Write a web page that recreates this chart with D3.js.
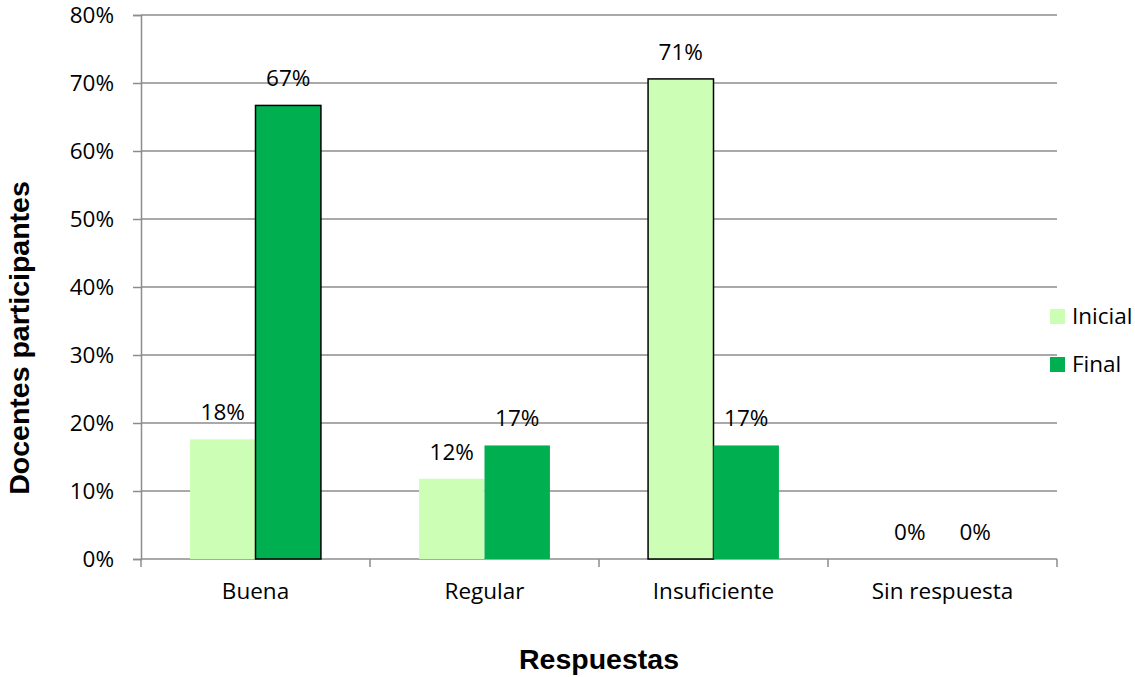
<!DOCTYPE html>
<html>
<head>
<meta charset="utf-8">
<script src="https://cdn.jsdelivr.net/npm/d3@7"></script>
<style>
  html, body { margin: 0; padding: 0; background: #ffffff; }
  svg { display: block; }
</style>
</head>
<body>
<svg id="chart" width="1135" height="677"></svg>
<script>
// Categories and series values (fractions of participating teachers)
const categories = ["Buena", "Regular", "Insuficiente", "Sin respuesta"];
const seriesNames = ["Inicial", "Final"];
const inicial = [0.176, 0.118, 0.706, 0];
const final = [0.667, 0.167, 0.167, 0];
const yTicks = [0, 0.1, 0.2, 0.3, 0.4, 0.5, 0.6, 0.7, 0.8];
// Bars drawn with a dark outline
const outlined = [["Buena", "Final"], ["Insuficiente", "Inicial"]];

const colors = { Inicial: "#ccffb5", Final: "#00b050" };
const labelFont = "'Open Sans', 'Noto Sans', sans-serif";
const labelSize = 22.5;
const titleFont = "'Liberation Sans', Arial, sans-serif";
const titleSize = 28.5;

const svg = d3.select("#chart");
const plot = { left: 141, right: 1057, top: 15, bottom: 559 };

const x0 = d3.scaleBand().domain(categories)
  .range([plot.left, plot.right]).paddingInner(0).paddingOuter(0);
const x1 = d3.scaleBand().domain(seriesNames)
  .range([0, x0.bandwidth()]).paddingInner(0).paddingOuter(0.75);
const y = d3.scaleLinear().domain([0, 0.8]).range([plot.bottom, plot.top]);

const rows = categories.map((c, i) => ({
  category: c,
  values: [
    { series: "Inicial", value: inicial[i] },
    { series: "Final", value: final[i] }
  ]
}));

// Horizontal gridlines
svg.append("g")
  .selectAll("line")
  .data(yTicks.filter(t => t > 0))
  .join("line")
  .attr("x1", plot.left).attr("x2", plot.right)
  .attr("y1", d => y(d)).attr("y2", d => y(d))
  .attr("stroke", "#8c8c8c").attr("stroke-width", 1.5);

// Y axis
const yAxis = svg.append("g")
  .attr("transform", `translate(${plot.left},0)`)
  .call(d3.axisLeft(y).tickValues(yTicks).tickFormat(d3.format(".0%")).tickSize(8).tickPadding(19));
yAxis.select(".domain").attr("stroke", "#8c8c8c").attr("stroke-width", 1.5);
yAxis.selectAll(".tick line").attr("stroke", "#8c8c8c").attr("stroke-width", 1.5);
yAxis.selectAll(".tick text")
  .attr("font-family", labelFont).attr("font-size", labelSize).attr("fill", "#000");

// X axis with ticks on category boundaries
const xAxisG = svg.append("g").attr("transform", `translate(0,${plot.bottom})`);
xAxisG.append("line")
  .attr("x1", plot.left).attr("x2", plot.right)
  .attr("stroke", "#8c8c8c").attr("stroke-width", 1.5);
const boundaries = categories.map(c => x0(c)).concat([x0(categories[categories.length - 1]) + x0.bandwidth()]);
xAxisG.selectAll("line.tick")
  .data(boundaries)
  .join("line")
  .attr("class", "tick")
  .attr("x1", d => d).attr("x2", d => d)
  .attr("y1", 0).attr("y2", 8)
  .attr("stroke", "#8c8c8c").attr("stroke-width", 1.5);
xAxisG.selectAll("text")
  .data(categories)
  .join("text")
  .attr("x", d => x0(d) + x0.bandwidth() / 2)
  .attr("y", 40)
  .attr("text-anchor", "middle")
  .attr("font-family", labelFont).attr("font-size", labelSize).attr("fill", "#000")
  .text(d => d);

// Bars
const isOutlined = (c, s) => outlined.some(o => o[0] === c && o[1] === s);
const groups = svg.append("g").selectAll("g")
  .data(rows)
  .join("g")
  .attr("transform", d => `translate(${x0(d.category)},0)`);

groups.selectAll("rect")
  .data(d => d.values.map(v => ({ ...v, category: d.category })))
  .join("rect")
  .attr("x", d => x1(d.series))
  .attr("y", d => y(d.value))
  .attr("width", x1.bandwidth())
  .attr("height", d => y(0) - y(d.value))
  .attr("fill", d => colors[d.series])
  .attr("stroke", d => isOutlined(d.category, d.series) && d.value > 0 ? "#000" : "none")
  .attr("stroke-width", 1.5);

// Value labels
groups.selectAll("text")
  .data(d => d.values.map(v => ({ ...v, category: d.category })))
  .join("text")
  .attr("x", d => x1(d.series) + x1.bandwidth() / 2)
  .attr("y", d => y(d.value) - 19)
  .attr("text-anchor", "middle")
  .attr("font-family", labelFont).attr("font-size", labelSize).attr("fill", "#000")
  .text(d => d3.format(".0%")(d.value));

// Legend
const legend = svg.append("g").attr("transform", "translate(1050,0)");
const legendRows = legend.selectAll("g")
  .data(seriesNames)
  .join("g")
  .attr("transform", (d, i) => `translate(0,${316 + i * 48})`);
legendRows.append("rect")
  .attr("x", 0).attr("y", -7).attr("width", 15).attr("height", 15)
  .attr("fill", d => colors[d]);
legendRows.append("text")
  .attr("x", 22).attr("y", 8)
  .attr("font-family", labelFont).attr("font-size", labelSize).attr("fill", "#000")
  .text(d => d);

// Axis titles
svg.append("text")
  .attr("x", (plot.left + plot.right) / 2).attr("y", 669)
  .attr("text-anchor", "middle")
  .attr("font-family", titleFont).attr("font-weight", "bold").attr("font-size", titleSize)
  .text("Respuestas");

svg.append("text")
  .attr("transform", "translate(29,338) rotate(-90)")
  .attr("text-anchor", "middle")
  .attr("font-family", titleFont).attr("font-weight", "bold").attr("font-size", titleSize)
  .text("Docentes participantes");
</script>
</body>
</html>
